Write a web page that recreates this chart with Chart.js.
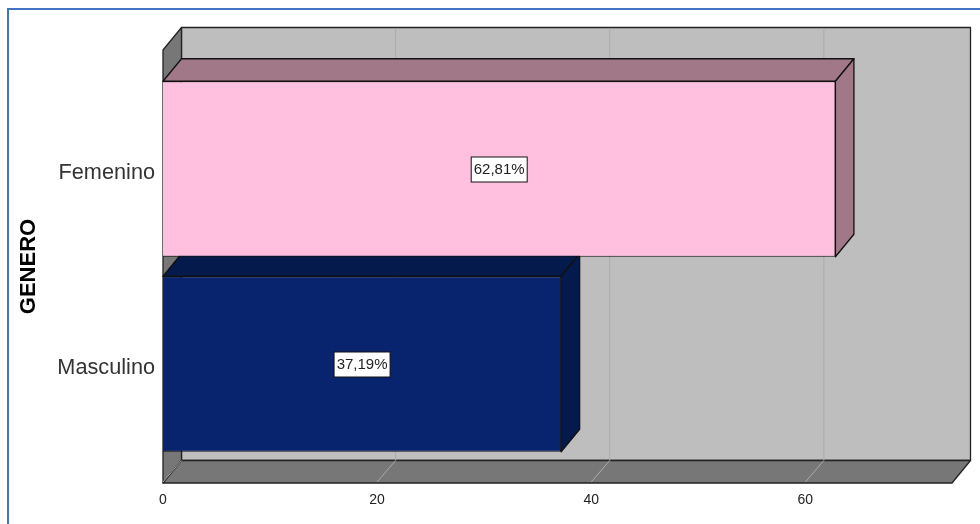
<!DOCTYPE html>
<html>
<head>
<meta charset="utf-8">
<title>GENERO</title>
<script src="https://cdn.jsdelivr.net/npm/chart.js@4"></script>
<style>
  html, body { margin: 0; padding: 0; background: #fff; overflow: hidden; }
  #marco { position: absolute; left: 7px; top: 8px; width: 973px; height: 516px; border-left: 2px solid #4472C4; border-top: 2px solid #4472C4; box-sizing: border-box; }
  #grafico { position: absolute; left: 0; top: 0; }
</style>
</head>
<body>
<div id="marco"></div>
<canvas id="grafico" width="980" height="524"></canvas>
<script>
const categorias = ['Femenino', 'Masculino'];
const porcentajes = [62.81, 37.19];
const etiquetas = ['62,81%', '37,19%'];
const ejeMax = 73.7;
const pasoX = 20;

const coloresBarra = ['#FFC0E0', '#08246F'];
const coloresLado = ['#A07888', '#041A4D'];
const FUENTE = '"Liberation Sans", Arial, sans-serif';
const TINTA = '#222222';

// profundidad del efecto 3D
const DX = 18.5;
const DY = 22.5;

function poligono(ctx, puntos, relleno, borde) {
    ctx.beginPath();
    puntos.forEach((p, i) => i ? ctx.lineTo(p[0], p[1]) : ctx.moveTo(p[0], p[1]));
    ctx.closePath();
    ctx.fillStyle = relleno;
    ctx.fill();
    ctx.lineWidth = 1.3;
    ctx.lineJoin = 'round';
    ctx.strokeStyle = borde;
    ctx.stroke();
}

const caja3d = {
    id: 'caja3d',
    beforeDatasetsDraw(chart) {
        const ctx = chart.ctx;
        const area = chart.chartArea;
        const x = chart.scales.x;
        const izq = area.left, der = area.right;
        const arriba = 50, abajo = 483;
        ctx.save();
        // pared del fondo, pared izquierda y piso
        poligono(ctx, [[izq + DX, arriba - DY], [der + DX, arriba - DY], [der + DX, abajo - DY], [izq + DX, abajo - DY]], '#BEBEBE', TINTA);
        poligono(ctx, [[izq, arriba], [izq + DX, arriba - DY], [izq + DX, abajo - DY], [izq, abajo]], '#777777', TINTA);
        poligono(ctx, [[izq, abajo], [izq + DX, abajo - DY], [der + DX, abajo - DY], [der, abajo]], '#777777', TINTA);
        // lineas de la cuadricula
        ctx.lineWidth = 1;
        ctx.strokeStyle = '#ABABAB';
        x.ticks.forEach(t => {
            const px = x.getPixelForValue(t.value);
            ctx.beginPath();
            ctx.moveTo(px, abajo - 1);
            ctx.lineTo(px + DX, abajo - DY);
            if (t.value > 0) ctx.lineTo(px + DX, arriba - DY + 1);
            ctx.stroke();
        });
        // caras superior y lateral de cada barra
        chart.getDatasetMeta(0).data.forEach((barra, i) => {
            const p = barra.getProps(['x', 'y', 'base', 'height']);
            const sup = p.y - p.height / 2, inf = p.y + p.height / 2;
            poligono(ctx, [[p.base, sup], [p.base + DX, sup - DY], [p.x + DX, sup - DY], [p.x, sup]], coloresLado[i], '#111111');
            poligono(ctx, [[p.x, sup], [p.x + DX, sup - DY], [p.x + DX, inf - DY], [p.x, inf]], coloresLado[i], '#111111');
        });
        ctx.restore();
    },
    afterDatasetsDraw(chart) {
        const ctx = chart.ctx;
        ctx.save();
        ctx.font = '15px ' + FUENTE;
        ctx.textAlign = 'center';
        ctx.textBaseline = 'middle';
        chart.getDatasetMeta(0).data.forEach((barra, i) => {
            const p = barra.getProps(['x', 'y', 'base']);
            const cx = (p.x + p.base) / 2;
            ctx.fillStyle = '#FFFFFF';
            ctx.strokeStyle = '#111111';
            ctx.lineWidth = 1;
            ctx.fillRect(cx - 28, p.y - 12, 56, 25);
            ctx.strokeRect(cx - 28, p.y - 12, 56, 25);
            ctx.fillStyle = TINTA;
            ctx.fillText(etiquetas[i], cx, p.y + 1);
        });
        ctx.restore();
    }
};

new Chart(document.getElementById('grafico').getContext('2d'), {
    type: 'bar',
    data: {
        labels: categorias,
        datasets: [{
            data: porcentajes,
            backgroundColor: coloresBarra,
            borderColor: '#111111',
            borderWidth: 1,
            barPercentage: 0.9,
            categoryPercentage: 1
        }]
    },
    options: {
        indexAxis: 'y',
        responsive: false,
        animation: false,
        layout: { padding: { top: 71.5, right: 28, left: 0, bottom: 0 } },
        plugins: { legend: { display: false }, tooltip: { enabled: false } },
        scales: {
            x: {
                min: 0,
                max: ejeMax,
                grid: { display: false },
                border: { display: false },
                ticks: { stepSize: pasoX, includeBounds: false, maxRotation: 0, padding: 22, color: TINTA, font: { family: FUENTE, size: 14 } },
                afterFit(scale) { scale.height = 62.5; }
            },
            y: {
                grid: { display: false, drawTicks: false },
                border: { display: false },
                ticks: { padding: 8, labelOffset: 4, color: '#333333', font: { family: FUENTE, size: 21.7 } },
                title: {
                    display: true,
                    text: 'GENERO',
                    color: '#000000',
                    padding: { top: 16, bottom: 0 },
                    font: { family: FUENTE, size: 22, weight: 'bold' }
                },
                afterFit(scale) { scale.width = 163; }
            }
        }
    },
    plugins: [caja3d]
});
</script>
</body>
</html>
